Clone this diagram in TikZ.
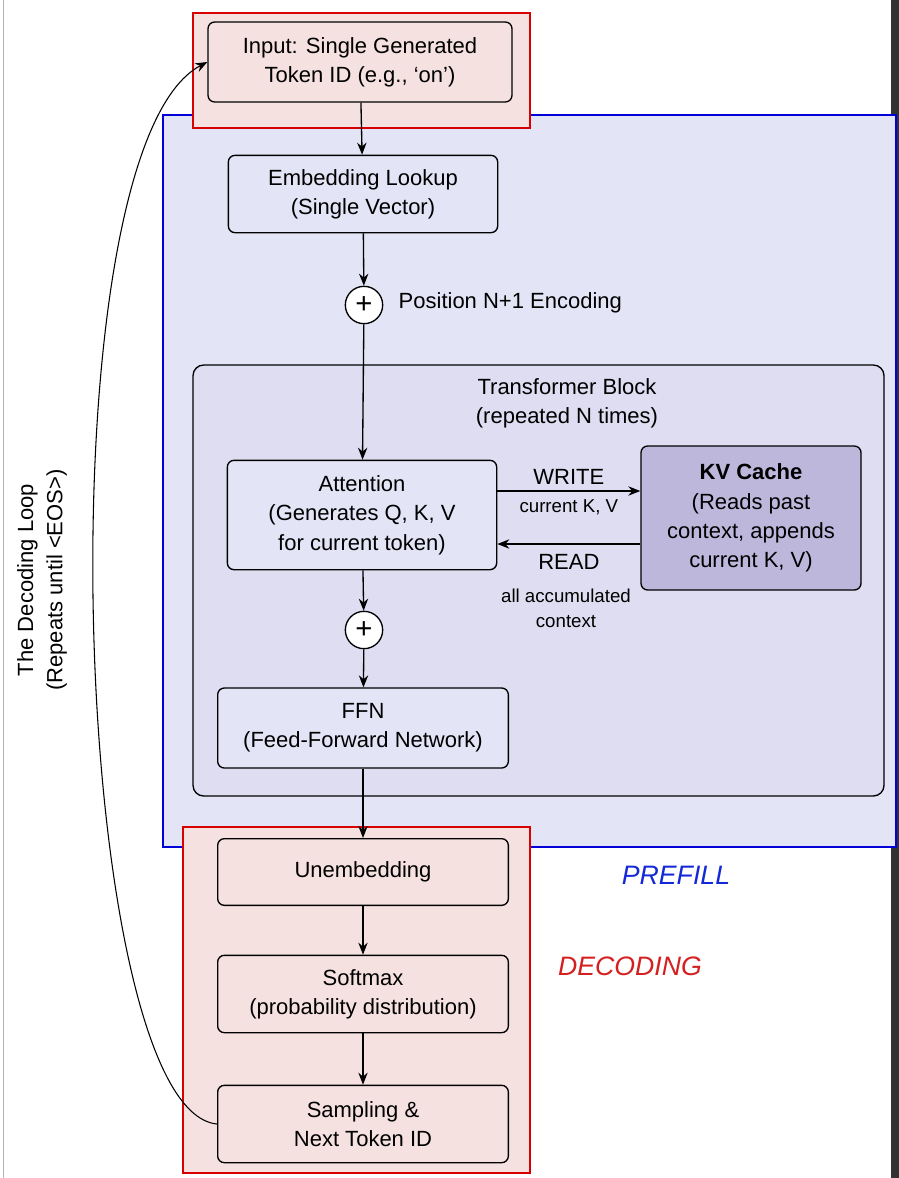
\documentclass[tikz,border=0pt]{standalone}
\usepackage{fontspec}
\setmainfont{Liberation Sans}
\usetikzlibrary{arrows.meta}
\definecolor{boxpink}{HTML}{F6E1E1}
\definecolor{lav}{HTML}{E4E4F7}
\definecolor{blocklav}{HTML}{DEDDF1}
\definecolor{kvfill}{HTML}{BDB7DC}
\definecolor{penblue}{HTML}{1428D8}
\definecolor{penred}{HTML}{D42020}
\begin{document}
\begin{tikzpicture}[x=0.75pt,y=-0.75pt,>={Stealth[length=9pt,width=7pt]},
 stepbox/.style={draw,rounded corners=5pt,line width=1pt,fill=#1,align=center,font=\fontsize{16.5}{22}\selectfont,inner sep=0pt},
 stepbox/.default=white,
 plusnode/.style={draw,circle,line width=1pt,minimum size=28pt,inner sep=0pt,fill=white,font=\fontsize{22}{22}\selectfont},
 lbl/.style={align=center,font=\fontsize{16.5}{22}\selectfont},
 flow/.style={->,line width=1pt}]
\useasboundingbox (0,0) rectangle (899,1178);
\fill[white] (0,0) rectangle (899,1178);
\fill[black!80] (891,0) rectangle (899,1178);
\draw[gray!60] (3,0) -- (3,1178);
% frames
\draw[blue!85!black,line width=1.5pt,fill=lav] (163,115) rectangle (896,847);
\draw[rounded corners=8pt,line width=1pt,fill=blocklav] (193,365) rectangle (884,796);
\node[lbl] (block) at (567,403) {Transformer Block\\(repeated N times)};
\fill[boxpink] (183,827) rectangle (530,1173);
\fill[boxpink] (193,13) rectangle (530,128);
% boxes
\node[stepbox=boxpink,minimum width=228pt,minimum height=60pt] (input) at (360,62) {Input: Single Generated\\Token ID (e.g., ‘on’)};
\node[stepbox=lav,minimum width=202pt,minimum height=58pt] (embed) at (363,194) {Embedding Lookup\\(Single Vector)};
\node[plusnode] (pos) at (364,305) {+};
\node[lbl,anchor=west] (poslbl) at (394,303) {Position N+1 Encoding};
\node[stepbox=lav,minimum width=202pt,minimum height=82pt] (attn) at (362,515) {Attention\\(Generates Q, K, V\\for current token)};
\node[stepbox=kvfill,minimum width=165pt,minimum height=108pt] (kv) at (751,518) {\textbf{KV Cache}\\(Reads past\\context, appends\\current K, V)};
\node[plusnode] (res) at (364,630) {+};
\node[stepbox=lav,minimum width=218pt,minimum height=60pt] (ffn) at (363,728) {FFN\\(Feed-Forward Network)};
\node[stepbox=boxpink,minimum width=218pt,minimum height=50pt] (unembed) at (363,872) {Unembedding};
\node[stepbox=boxpink,minimum width=218pt,minimum height=58pt] (softmax) at (363,994) {Softmax\\(probability distribution)};
\node[stepbox=boxpink,minimum width=218pt,minimum height=58pt] (sample) at (363,1124) {Sampling \&\\Next Token ID};
% red frames on top
\draw[red!85!black,line width=1.5pt] (193,13) rectangle (530,128);
\draw[red!85!black,line width=1.5pt] (183,827) rectangle (530,1173);
% flow
\draw[flow] (input) -- (embed);
\draw[flow] (embed) -- (pos);
\draw[flow] (pos) -- (attn);
\draw[flow] (attn) -- (res);
\draw[flow] (res) -- (ffn);
\draw[flow] (ffn) -- (unembed);
\draw[flow] (unembed) -- (softmax);
\draw[flow] (softmax) -- (sample);
\draw[flow] (attn.east|-0,491) -- (kv.west|-0,491) node[lbl,midway,above=1pt] (write) {WRITE}
  node[lbl,midway,below=3pt,font=\fontsize{14}{18}\selectfont] (wlbl) {current K, V};
\draw[flow] (kv.west|-0,544) -- (attn.east|-0,544) node[lbl,midway,below=4pt] (read) {READ};
\node[lbl,font=\fontsize{14}{19}\selectfont] (rlbl) at (566,608) {all accumulated\\context};
% loop
\draw[flow,line width=0.8pt] (sample.west) .. controls (70,1110) and (40,150) .. (input.west);
\node[lbl,rotate=90] (looplbl) at (42,580) {The Decoding Loop\\(Repeats until <EOS>)};
% notes
\node[font=\itshape\fontsize{20}{20}\selectfont,text=penblue] (prefill) at (676,875) {PREFILL};
\node[font=\itshape\fontsize{20}{20}\selectfont,text=penred] (decoding) at (630,966) {DECODING};
\end{tikzpicture}
\end{document}
